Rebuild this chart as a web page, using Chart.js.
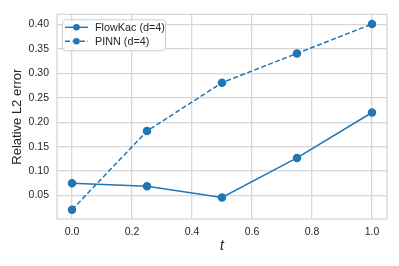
<!DOCTYPE html>
<html>
<head>
<meta charset="utf-8">
<script src="https://cdn.jsdelivr.net/npm/chart.js@4"></script>
<style>
  html, body { margin: 0; padding: 0; background: #fff; }
  #wrap { width: 399px; height: 266px; }
</style>
</head>
<body>
<div id="wrap"><canvas id="chart" width="399" height="266"></canvas></div>
<script>
const tValues = [0.0, 0.25, 0.5, 0.75, 1.0];
const flowKacErr = [0.075, 0.069, 0.046, 0.127, 0.220];
const pinnErr = [0.021, 0.182, 0.281, 0.341, 0.401];
const xTicks = [0.0, 0.2, 0.4, 0.6, 0.8, 1.0];
const yTicks = [0.05, 0.10, 0.15, 0.20, 0.25, 0.30, 0.35, 0.40];

const blue = '#1f77b4';
const gridColor = '#d6d6d6';
const textColor = '#262626';
const fontFamily = '"Liberation Sans", Arial, sans-serif';

// frame around the plot area plus a matplotlib-like legend inside it
const framePlugin = {
    id: 'frame',
    afterDraw(chart) {
        const ctx = chart.ctx;
        const a = chart.chartArea;
        ctx.save();
        ctx.strokeStyle = gridColor;
        ctx.lineWidth = 1.3;
        ctx.strokeRect(a.left, a.top, a.right - a.left, a.bottom - a.top);

        // legend box
        const bx = a.left + 5, by = a.top + 5, bw = 103, bh = 31;
        ctx.fillStyle = 'rgba(255,255,255,0.8)';
        ctx.strokeStyle = '#cccccc';
        ctx.lineWidth = 1;
        ctx.beginPath();
        ctx.roundRect(bx + 0.5, by + 0.5, bw, bh, 3);
        ctx.fill();
        ctx.stroke();

        chart.data.datasets.forEach((ds, i) => {
            const y = by + 8 + i * 14;
            ctx.strokeStyle = ds.borderColor;
            ctx.lineWidth = 1.5;
            ctx.setLineDash(ds.borderDash || []);
            ctx.beginPath();
            ctx.moveTo(bx + 3, y);
            ctx.lineTo(bx + 26, y);
            ctx.stroke();
            ctx.setLineDash([]);
            ctx.fillStyle = ds.borderColor;
            ctx.beginPath();
            ctx.arc(bx + 14.5, y, 3.3, 0, Math.PI * 2);
            ctx.fill();
            ctx.fillStyle = textColor;
            ctx.font = '10.8px ' + fontFamily;
            ctx.textBaseline = 'middle';
            ctx.textAlign = 'left';
            ctx.fillText(ds.label, bx + 33, y + 0.5);
        });
        ctx.restore();
    }
};

const ctx = document.getElementById('chart').getContext('2d');
new Chart(ctx, {
    type: 'line',
    data: {
        datasets: [{
            label: 'FlowKac (d=4)',
            data: tValues.map((t, i) => ({ x: t, y: flowKacErr[i] })),
            borderColor: blue,
            backgroundColor: blue,
            borderWidth: 1.5,
            pointRadius: 3.5,
            pointHoverRadius: 3.5,
            fill: false,
        }, {
            label: 'PINN (d=4)',
            data: tValues.map((t, i) => ({ x: t, y: pinnErr[i] })),
            borderColor: blue,
            backgroundColor: blue,
            borderWidth: 1.5,
            borderDash: [5, 2.5],
            pointRadius: 3.5,
            pointHoverRadius: 3.5,
            fill: false,
        }],
    },
    options: {
        responsive: false,
        animation: false,
        layout: { padding: { top: 12, right: 12, left: 0, bottom: 0 } },
        plugins: {
            legend: { display: false },
            tooltip: { enabled: false },
        },
        scales: {
            x: {
                type: 'linear',
                min: -0.05,
                max: 1.05,
                afterBuildTicks: (scale) => { scale.ticks = xTicks.map(v => ({ value: v })); },
                afterFit: (scale) => { scale.height = 47; },
                grid: { color: gridColor, lineWidth: 1.3, drawTicks: false },
                border: { display: false },
                ticks: {
                    padding: 7,
                    color: textColor,
                    font: { family: fontFamily, size: 10.5 },
                    callback: (v) => v.toFixed(1),
                },
                title: {
                    display: true,
                    text: 't',
                    color: textColor,
                    font: { family: fontFamily, size: 14, style: 'italic' },
                    padding: { top: 0, bottom: 11 },
                },
            },
            y: {
                min: 0.002,
                max: 0.421,
                afterBuildTicks: (scale) => { scale.ticks = yTicks.map(v => ({ value: v })); },
                afterFit: (scale) => { scale.width = 57; },
                grid: { color: gridColor, lineWidth: 1.3, drawTicks: false },
                border: { display: false },
                ticks: {
                    padding: 8,
                    color: textColor,
                    font: { family: fontFamily, size: 10.5 },
                    callback: (v) => v.toFixed(2),
                },
                title: {
                    display: true,
                    text: 'Relative L2 error',
                    color: textColor,
                    font: { family: fontFamily, size: 13 },
                    padding: { top: 10, bottom: 0 },
                },
            },
        },
    },
    plugins: [framePlugin],
});
</script>
</body>
</html>
